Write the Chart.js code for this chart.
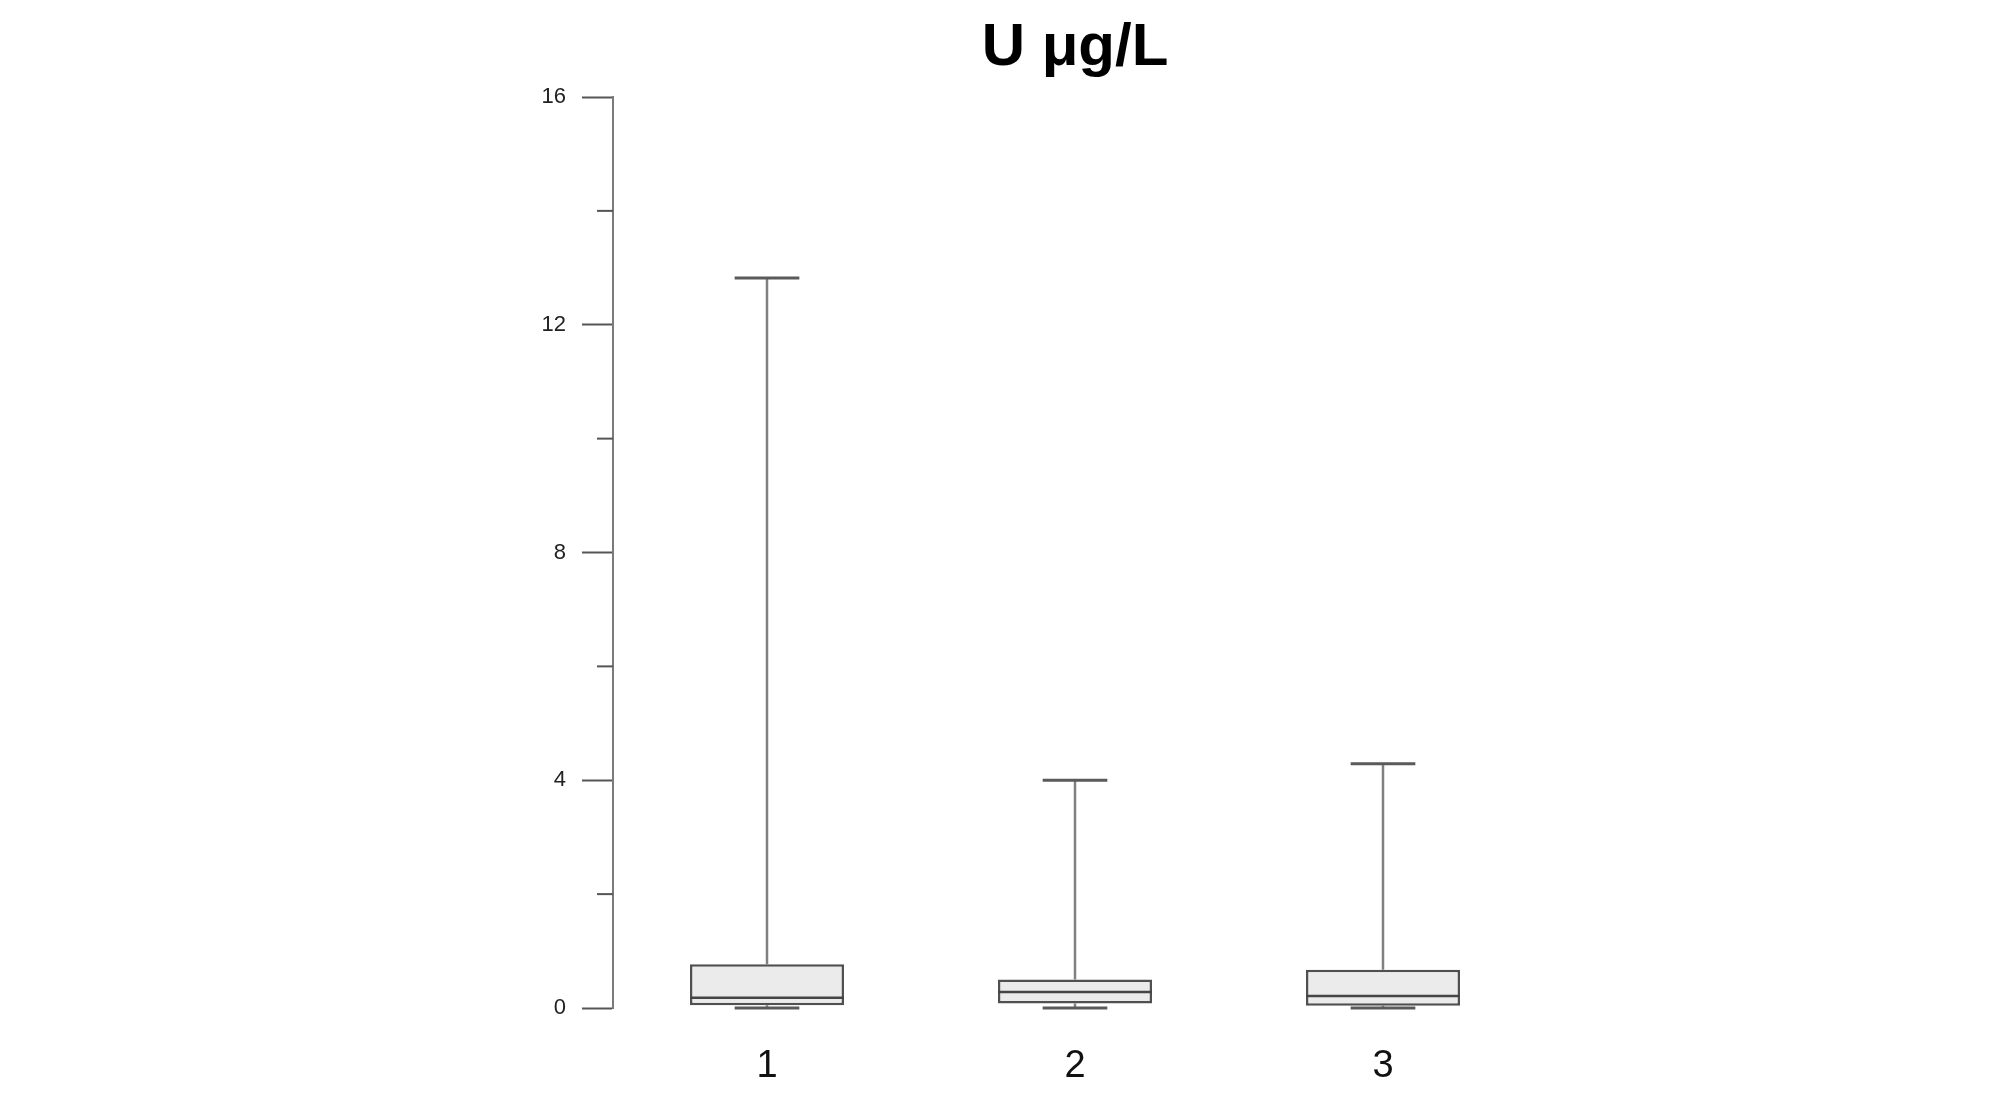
<!DOCTYPE html>
<html>
<head>
<meta charset="utf-8">
<script src="https://cdn.jsdelivr.net/npm/chart.js@4.4.1/dist/chart.umd.min.js"></script>
<style>
  html, body { margin: 0; padding: 0; background: #fff; }
  #wrap { width: 2008px; height: 1104px; }
</style>
</head>
<body>
<div id="wrap"><canvas id="chart-area" width="2008" height="1104"></canvas></div>
<script>
// box plot values
var categories = ['1', '2', '3'];
var mins    = [0, 0, 0];
var q1s     = [0.05, 0.08, 0.04];
var medians = [0.18, 0.28, 0.21];
var q3s     = [0.77, 0.50, 0.67];
var maxs    = [12.82, 4.0, 4.29];

var yTicks = [0, 4, 8, 12, 16];

var FONT = "'Liberation Sans', Arial, sans-serif";

// whiskers go under the boxes, medians on top
var boxPlotPlugin = {
  id: 'boxPlot',
  beforeDatasetsDraw: function(chart) {
    var ctx = chart.ctx;
    var y = chart.scales.y;
    var meta = chart.getDatasetMeta(0);
    ctx.save();
    for (let i = 0; i < categories.length; i++) {
      let bar = meta.data[i];
      let cx = bar.x;
      let half = bar.width * 0.21;
      // vertical lines
      ctx.strokeStyle = '#808080';
      ctx.lineWidth = 2.5;
      ctx.beginPath();
      ctx.moveTo(cx, y.getPixelForValue(q3s[i]));
      ctx.lineTo(cx, y.getPixelForValue(maxs[i]));
      ctx.moveTo(cx, y.getPixelForValue(q1s[i]));
      ctx.lineTo(cx, y.getPixelForValue(mins[i]));
      ctx.stroke();
      // caps
      ctx.strokeStyle = '#5a5a5a';
      ctx.lineWidth = 3;
      ctx.beginPath();
      ctx.moveTo(cx - half, y.getPixelForValue(maxs[i]));
      ctx.lineTo(cx + half, y.getPixelForValue(maxs[i]));
      ctx.moveTo(cx - half, y.getPixelForValue(mins[i]));
      ctx.lineTo(cx + half, y.getPixelForValue(mins[i]));
      ctx.stroke();
    }
    ctx.restore();
  },
  afterDatasetsDraw: function(chart) {
    var ctx = chart.ctx;
    var y = chart.scales.y;
    var meta = chart.getDatasetMeta(0);
    ctx.save();
    ctx.strokeStyle = '#454545';
    ctx.lineWidth = 2.5;
    for (let i = 0; i < categories.length; i++) {
      let bar = meta.data[i];
      let py = y.getPixelForValue(medians[i]);
      ctx.beginPath();
      ctx.moveTo(bar.x - bar.width / 2, py);
      ctx.lineTo(bar.x + bar.width / 2, py);
      ctx.stroke();
    }
    // short minor ticks on the y axis
    ctx.strokeStyle = '#555';
    ctx.lineWidth = 2;
    for (let t of y.ticks) {
      if (yTicks.indexOf(t.value) !== -1) continue;
      let py = y.getPixelForValue(t.value);
      ctx.beginPath();
      ctx.moveTo(y.right - 16, py);
      ctx.lineTo(y.right, py);
      ctx.stroke();
    }
    ctx.restore();
  }
};

var config = {
  type: 'bar',
  data: {
    labels: categories,
    datasets: [{
      data: q1s.map(function(v, i) { return [v, q3s[i]]; }),
      backgroundColor: '#ebebeb',
      borderColor: '#505050',
      borderWidth: 2.5,
      borderSkipped: false,
      categoryPercentage: 1,
      barPercentage: 0.5
    }]
  },
  options: {
    responsive: false,
    animation: false,
    layout: { padding: { left: 541, right: 471, top: 0, bottom: 0 } },
    plugins: {
      legend: { display: false },
      tooltip: { enabled: false },
      title: {
        display: true,
        text: 'U μg/L',
        fullSize: false,
        color: '#000',
        font: { family: FONT, size: 60, weight: 'bold' },
        padding: { top: 12, bottom: 13 }
      }
    },
    scales: {
      x: {
        grid: { display: false },
        border: { display: false },
        ticks: {
          color: '#111',
          font: { family: FONT, size: 38 },
          padding: 28
        },
        afterFit: function(scale) { scale.height = 96; }
      },
      y: {
        min: 0,
        max: 16,
        grid: {
          drawOnChartArea: false,
          drawTicks: true,
          tickLength: 31,
          tickWidth: 2,
          tickColor: function(c) {
            return yTicks.indexOf(c.tick.value) !== -1 ? '#555' : 'rgba(0,0,0,0)';
          }
        },
        border: { display: true, color: '#7a7a7a', width: 2 },
        ticks: {
          stepSize: 2,
          autoSkip: false,
          color: '#222',
          padding: 16,
          font: { family: FONT, size: 22 },
          callback: function(v) { return yTicks.indexOf(v) !== -1 ? String(v) : ''; }
        },
        afterFit: function(scale) { scale.width = 72; }
      }
    }
  },
  plugins: [boxPlotPlugin]
};

var ctx = document.getElementById('chart-area').getContext('2d');
window.myBoxPlot = new Chart(ctx, config);
</script>
</body>
</html>
